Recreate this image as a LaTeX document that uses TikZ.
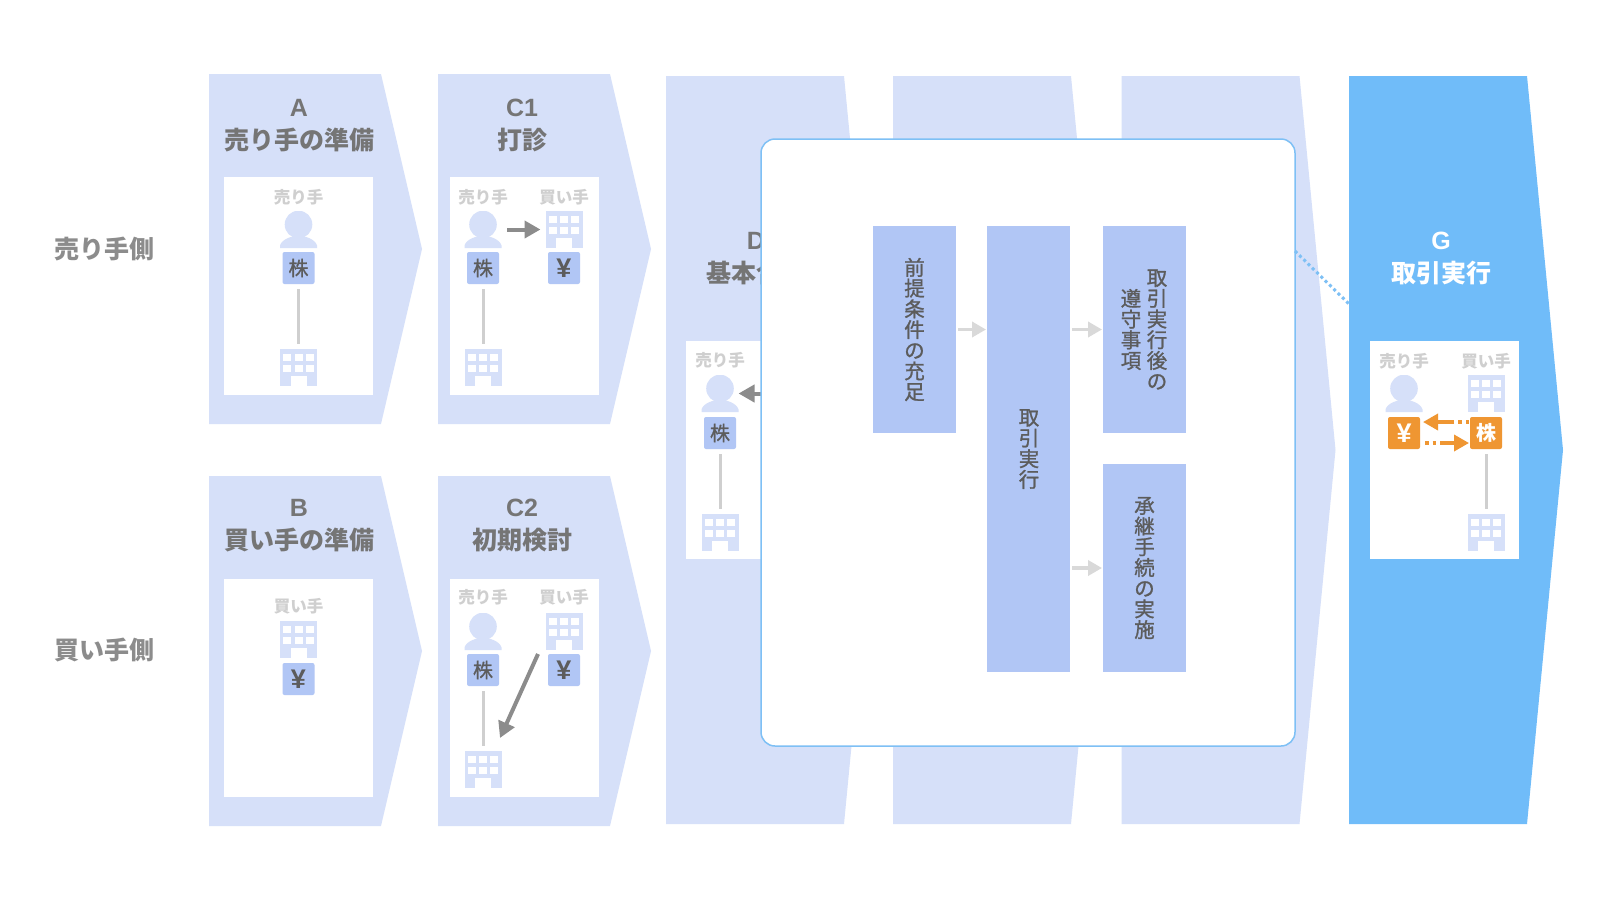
\documentclass[tikz,border=0pt]{standalone}
\usepackage{fontspec}
\setmainfont{Noto Sans CJK JP}
\newfontfamily\cjkmid[FakeBold=1.1]{Noto Sans CJK JP}
\newfontfamily\latinbold{Liberation Sans}
\usepackage{tikz}
\usetikzlibrary{positioning,arrows.meta,shapes.symbols}
\usepackage{xcolor}
\definecolor{panelblue}{HTML}{D6E0F9}
\definecolor{tokenblue}{HTML}{B1C6F5}
\definecolor{skyblue}{HTML}{70BCF9}
\definecolor{boxline}{HTML}{7EC0F5}
\definecolor{tokenorange}{HTML}{EF9632}
\definecolor{titlegrey}{HTML}{757575}
\definecolor{textgrey}{HTML}{5C5C5C}
\definecolor{whogrey}{HTML}{CFCFCF}
\definecolor{arrowgrey}{HTML}{8C8C8C}
\definecolor{stepgrey}{HTML}{D9D9D9}
\newcommand{\stagecode}[1]{{\latinbold\bfseries #1}}
\newcommand{\yenmark}{{\fontsize{27}{24}\latinbold\bfseries ¥}}

\begin{document}
\begin{tikzpicture}[
    x=1pt, y=-1pt,
    stage/.style={signal, signal to=east, signal from=nowhere, inner sep=0pt, outer sep=0pt, fill=panelblue, minimum width=213pt, minimum height=350pt, signal pointer angle=153.6},
    longstage/.style={stage, minimum width=214pt, minimum height=748pt, signal pointer angle=169},
    stagetitle/.style={align=center, text=titlegrey, font=\fontsize{25}{33}\selectfont\bfseries},
    sidelabel/.style={text=arrowgrey, font=\fontsize{25}{30}\selectfont\bfseries},
    window/.style={fill=white, inner sep=0pt, outer sep=0pt, minimum width=149pt, minimum height=218pt},
    who/.style={text=whogrey, inner sep=0pt, font=\fontsize{16.5}{20}\selectfont\bfseries},
    token/.style={fill=tokenblue, rounded corners=2pt, inner sep=0pt, outer sep=0pt, minimum size=32pt, text=textgrey, font=\fontsize{20}{24}\cjkmid},
    ordertoken/.style={token, fill=tokenorange, text=white, font=\fontsize{20}{24}\selectfont\bfseries},
    person/.style={inner sep=0pt, outer sep=0pt, minimum size=37pt, path picture={
        \fill[panelblue] ([yshift=5pt]path picture bounding box.center) circle (13.8pt);
        \fill[panelblue] ([shift={(-19pt,-18.5pt)}]path picture bounding box.center) arc[start angle=180, end angle=0, x radius=19pt, y radius=12pt] -- cycle;
    }},
    building/.style={fill=panelblue, inner sep=0pt, outer sep=0pt, minimum size=37pt, path picture={
        \foreach \col in {-11.3,0,11.3} \foreach \row in {-9.7,1} {
            \fill[white] ([shift={(\col pt-4pt,-\row pt-3.4pt)}]path picture bounding box.center) rectangle ++(8pt,6.8pt);
        }
        \fill[white] ([shift={(-8pt,-8pt)}]path picture bounding box.center) rectangle ++(16pt,-12pt);
    }},
    tie/.style={draw=whogrey, line width=3pt},
    flow/.style={-{Triangle[length=16pt,width=17pt]}, draw=arrowgrey, line width=4pt},
    stepline/.style={-{Triangle[length=14pt,width=15pt]}, draw=stepgrey, line width=3.5pt, shorten <=2pt, shorten >=1pt},
    swap/.style={-{Triangle[length=15pt,width=16pt]}, draw=tokenorange, line width=3.5pt},
    stepbox/.style={fill=tokenblue, inner sep=0pt, outer sep=0pt, minimum width=83pt},
    vtext/.style={align=center, inner sep=0pt, text=textgrey, font=\fontsize{20.5}{20.7}\cjkmid}
]
\path[use as bounding box, fill=white] (0,0) rectangle (1600,900);

\node[sidelabel] (sellerside) at (104,249) {売り手側};
\node[sidelabel] (buyerside) at (104,650) {買い手側};

% A
\node[stage] (a) at (295,249) {};
\node[stagetitle] (atitle) at (299,125.5) {\stagecode{A}\\売り手の準備};
\node[window] (awin) at (298.5,286) {};
\node[who] (awho) at (298.5,197) {売り手};
\node[person] (aseller) at (298.5,229.5) {};
\node[token, below=4pt of aseller] (astock) {株};
\node[building, below=65pt of astock] (afirm) {};
\draw[tie] ([yshift=-5pt]astock.south) -- ([yshift=5pt]afirm.north);

% C1
\node[stage] (cone) at (524,249) {};
\node[stagetitle] (conetitle) at (522,125.5) {\stagecode{C1}\\打診};
\node[window] (conewin) at (524.5,286) {};
\node[who] (conewhoa) at (483,197) {売り手};
\node[who] (conewhob) at (564,197) {買い手};
\node[person] (coneseller) at (483,229.5) {};
\node[building] (conebuyer) at (564,229.5) {};
\node[token, below=4pt of coneseller] (conestock) {株};
\node[token, below=4pt of conebuyer] (coneyen) {\yenmark};
\node[building, below=65pt of conestock] (conefirm) {};
\draw[tie] ([yshift=-5pt]conestock.south) -- ([yshift=5pt]conefirm.north);
\draw[flow, shorten <=5.5pt, shorten >=5pt] (coneseller) -- (conebuyer);

% B
\node[stage] (b) at (295,651) {};
\node[stagetitle] (btitle) at (299,525.5) {\stagecode{B}\\買い手の準備};
\node[window] (bwin) at (298.5,688) {};
\node[who] (bwho) at (298.5,606) {買い手};
\node[building] (bbuyer) at (298.5,639.5) {};
\node[token, below=5pt of bbuyer] (byen) {\yenmark};

% C2
\node[stage] (ctwo) at (524,651) {};
\node[stagetitle] (ctwotitle) at (522,525.5) {\stagecode{C2}\\初期検討};
\node[window] (ctwowin) at (524.5,688) {};
\node[who] (ctwowhoa) at (483,597) {売り手};
\node[who] (ctwowhob) at (564,597) {買い手};
\node[person] (ctwoseller) at (483,631.5) {};
\node[building] (ctwobuyer) at (564,631.5) {};
\node[token, below=4pt of ctwoseller] (ctwostock) {株};
\node[token, below=4pt of ctwobuyer] (ctwoyen) {\yenmark};
\node[building, below=65pt of ctwostock] (ctwofirm) {};
\draw[tie] ([yshift=-5pt]ctwostock.south) -- ([yshift=5pt]ctwofirm.north);
\coordinate (ctwofrom) at (538,654);
\coordinate (ctwoto) at (500,738);
\draw[flow] (ctwofrom) -- (ctwoto);

% D, E, F
\node[longstage] (d) at (755,450) {};
\node[longstage] (e) at (982,450) {};
\node[longstage] (f) at (1210.5,450) {};
\node[stagetitle] (dtitle) at (756,258.5) {\stagecode{D}\\基本合意};
\node[window] (dwin) at (760.5,450) {};
\node[who] (dwho) at (720,360) {売り手};
\node[person] (dseller) at (720,393.5) {};
\node[token, below=5pt of dseller] (dstock) {株};
\node[building, below=65pt of dstock] (dfirm) {};
\draw[tie] ([yshift=-5pt]dstock.south) -- ([yshift=5pt]dfirm.north);
\coordinate (dhidden) at (790,393.5);
\draw[flow] (dhidden) -- (dseller.east);

% G
\node[longstage, fill=skyblue] (g) at (1438,450) {};
\node[stagetitle, text=white] (gtitle) at (1441,258.5) {\stagecode{G}\\取引実行};
\node[window] (gwin) at (1444.5,450) {};
\node[who] (gwhoa) at (1404,361) {売り手};
\node[who] (gwhob) at (1486,361) {買い手};
\node[person] (gseller) at (1404,393.5) {};
\node[building] (gbuyer) at (1486,393.5) {};
\node[ordertoken, below=5pt of gseller] (gyen) {\yenmark};
\node[ordertoken, below=5pt of gbuyer] (gstock) {株};
\node[building, below=65pt of gstock] (gfirm) {};
\draw[tie] ([yshift=-5pt]gstock.south) -- ([yshift=5pt]gfirm.north);
\coordinate (gtopfrom) at (1469,422);
\coordinate (gtopto) at (1423,422);
\coordinate (gbotfrom) at (1425,443);
\coordinate (gbotto) at (1469,443);
\draw[swap, dash pattern=on 3.5pt off 4pt on 3.5pt off 4pt on 40pt] (gtopfrom) -- (gtopto);
\draw[swap, dash pattern=on 3.5pt off 4pt on 3.5pt off 4pt on 40pt] (gbotfrom) -- (gbotto);

% zoom of G
\node[fill=white, draw=boxline, line width=1.5pt, rounded corners=14pt, inner sep=0pt, minimum width=534pt, minimum height=607pt] (zoombox) at (1028,442.5) {};
\coordinate (dotfrom) at (1295,251);
\coordinate (dotto) at (1349,304);
\draw[boxline, line width=3pt, dash pattern=on 3pt off 3pt] (dotfrom) -- (dotto);

\node[stepbox, minimum height=207pt] (premise) at (914.5,329.5) {};
\node[stepbox, minimum height=446pt] (closing) at (1028.5,449) {};
\node[stepbox, minimum height=207pt] (after) at (1144.5,329.5) {};
\node[stepbox, minimum height=208pt] (handover) at (1144.5,568) {};
\node[vtext] (premisetext) at (premise) {前\\提\\条\\件\\の\\充\\足};
\node[vtext] (closingtext) at (1029,449) {取\\引\\実\\行};
\node[vtext] (aftertexta) at (1157,329.5) {取\\引\\実\\行\\後\\の};
\node[vtext] (aftertextb) at (1131,329.5) {遵\\守\\事\\項};
\node[vtext] (handovertext) at (handover) {承\\継\\手\\続\\の\\実\\施};
\draw[stepline] (premise.east) -- (premise.east -| closing.west);
\draw[stepline] (closing.east |- after.west) -- (after.west);
\draw[stepline] (closing.east |- handover.west) -- (handover.west);
\end{tikzpicture}
\end{document}
